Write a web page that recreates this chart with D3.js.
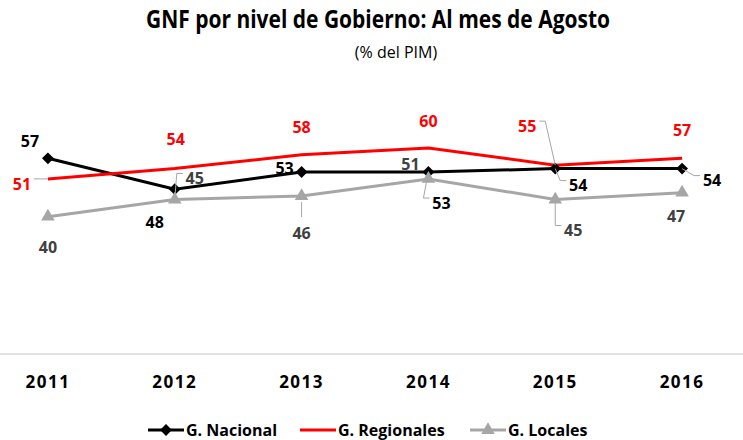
<!DOCTYPE html>
<html>
<head>
<meta charset="utf-8">
<script src="https://cdn.jsdelivr.net/npm/d3@7"></script>
<style>
  body { margin: 0; background: #fff; }
  text { font-family: "Liberation Sans Narrow", "Arial Narrow", "Open Sans", sans-serif; }
</style>
</head>
<body>
<div id="chart"></div>
<script>
const years = ["2011", "2012", "2013", "2014", "2015", "2016"];
const nacional = [57, 48, 53, 53, 54, 54];
const regionales = [51, 54, 58, 60, 55, 57];
const locales = [40, 45, 46, 51, 45, 47];

// label offsets from each point: [dx, dy, leader]
const nacionalLabels = [[-18, -17, 0], [-20, 33, 0], [-17, -4, 0], [13, 31, 1], [23, 17, 1], [30, 12, 1]];
const regionalesLabels = [[-26, 5, 1], [1, -29, 0], [0, -27, 0], [0, -27, 0], [-28, -39, 1], [0, -28, 0]];
const localesLabels = [[0, 31, 0], [20, -21, 1], [0, 37, 1], [-18, -15, 0], [18, 31, 1], [-6, 24, 0]];

const width = 743, height = 440;

const svg = d3.select("#chart").append("svg")
    .attr("width", width)
    .attr("height", height);

const x = d3.scaleBand().domain(years).range([-15.5, 745.5]);
const y = d3.scaleLinear().domain([0, 60]).range([354, 148]);
const cx = d => x(d) + x.bandwidth() / 2;

// title
svg.append("text")
    .attr("x", 378).attr("y", 28)
    .attr("text-anchor", "middle")
    .attr("textLength", 464)
    .attr("lengthAdjust", "spacingAndGlyphs")
    .style("font-size", "25px").style("font-weight", "bold")
    .text("GNF por nivel de Gobierno: Al mes de Agosto");
svg.append("text")
    .attr("x", 396).attr("y", 58)
    .attr("text-anchor", "middle")
    .style("font-size", "16px")
    .text("(% del PIM)");

// category axis
svg.append("line")
    .attr("x1", 0).attr("x2", width)
    .attr("y1", y(0)).attr("y2", y(0))
    .attr("stroke", "#d9d9d9").attr("stroke-width", 1.5);

const xAxis = svg.append("g")
    .attr("transform", `translate(0,${y(0)})`)
    .call(d3.axisBottom(x).tickSize(0).tickPadding(22));
xAxis.select(".domain").remove();
xAxis.selectAll("text")
    .style("font-size", "17px").style("font-weight", "bold")
    .style("letter-spacing", "1.5px")
    .attr("fill", "#000");

const series = [
    { name: "G. Nacional", values: nacional, labels: nacionalLabels, color: "#000", textColor: "#000", marker: d3.symbolSquare, size: 70, rotate: 45 },
    { name: "G. Regionales", values: regionales, labels: regionalesLabels, color: "#ff0000", textColor: "#ff0000", marker: null },
    { name: "G. Locales", values: locales, labels: localesLabels, color: "#a6a6a6", textColor: "#404040", marker: d3.symbolTriangle, size: 80, rotate: 0 }
];

const line = d3.line()
    .x((d, i) => cx(years[i]))
    .y(d => y(d));

// draw lines in back-to-front order
[series[2], series[0], series[1]].forEach(s => {
    svg.append("path")
        .attr("d", line(s.values))
        .attr("fill", "none")
        .attr("stroke", s.color)
        .attr("stroke-width", 3);
});

series.forEach(s => {
    if (!s.marker) return;
    svg.append("g").selectAll("path")
        .data(s.values)
        .enter().append("path")
        .attr("d", d3.symbol().type(s.marker).size(s.size))
        .attr("transform", (d, i) => `translate(${cx(years[i])},${y(d)}) rotate(${s.rotate})`)
        .attr("fill", s.color);
});

// labels with leader lines
series.forEach(s => {
    s.values.forEach((v, i) => {
        const px = cx(years[i]), py = y(v);
        const [dx, dy, leader] = s.labels[i];
        const lx = px + dx, ly = py + dy;
        if (leader) {
            const side = dx > 4 ? -1 : (dx < -4 ? 1 : 0);
            let pts;
            if (side === 0) {
                pts = [[px, py + Math.sign(dy) * 6], [lx, ly - Math.sign(dy) * 16]];
            } else {
                const ex = lx + side * 12, ey = ly - 5;
                pts = [[px, py], [ex + side * 6, ey], [ex, ey]];
            }
            svg.append("path")
                .attr("d", d3.line()(pts))
                .attr("fill", "none")
                .attr("stroke", "#a6a6a6")
                .attr("stroke-width", 1);
        }
        svg.append("text")
            .attr("x", lx).attr("y", ly)
            .attr("dy", "0.35em")
            .attr("text-anchor", "middle")
            .style("font-size", "16px").style("font-weight", "bold")
            .attr("fill", s.textColor)
            .text(v);
    });
});

// legend
const legendX = [148, 300, 470];
series.forEach((s, i) => {
    const g = svg.append("g").attr("transform", `translate(${legendX[i]},430)`);
    g.append("line")
        .attr("x1", 0).attr("x2", 36)
        .attr("stroke", s.color).attr("stroke-width", 3);
    if (s.marker) {
        g.append("path")
            .attr("d", d3.symbol().type(s.marker).size(s.size))
            .attr("transform", `translate(18,0) rotate(${s.rotate})`)
            .attr("fill", s.color);
    }
    g.append("text")
        .attr("x", 38).attr("dy", "0.35em")
        .style("font-size", "16px").style("font-weight", "bold")
        .attr("fill", "#000")
        .text(s.name);
});
</script>
</body>
</html>
